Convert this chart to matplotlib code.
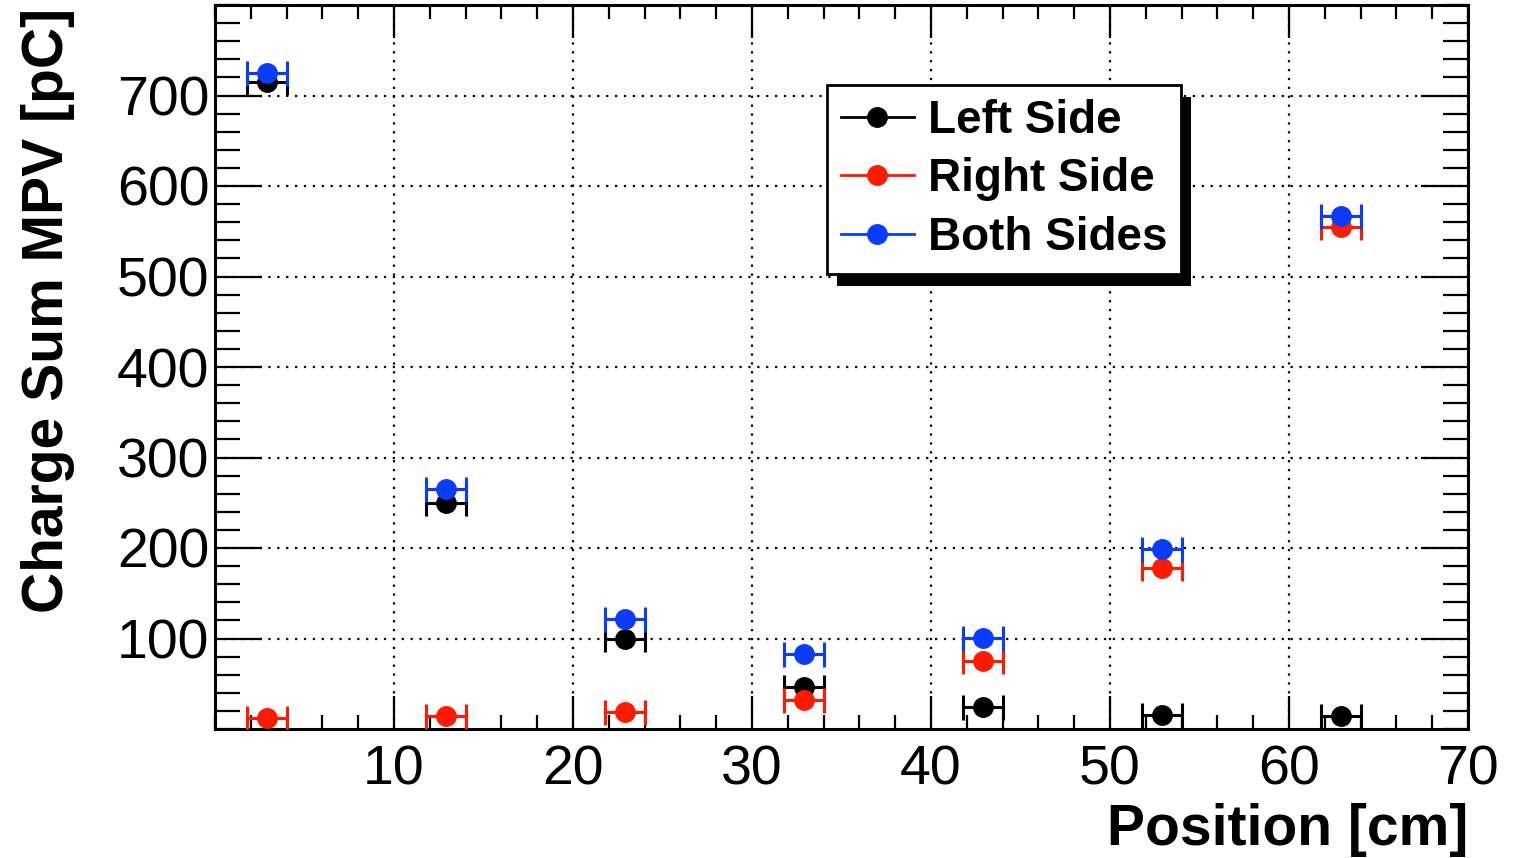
import numpy as np
import matplotlib
matplotlib.use('Agg')
import matplotlib.pyplot as plt
from matplotlib.patches import Rectangle
from matplotlib.lines import Line2D
from matplotlib.ticker import MultipleLocator

plt.rcParams.update({
    'font.family': 'Liberation Sans',
    'font.size': 40,
})

# scan positions along the bar [cm] and half-width of each position bin
position = [2.9, 12.9, 22.9, 32.9, 42.9, 52.9, 62.9]
pos_err = [1.1, 1.1, 1.1, 1.1, 1.1, 1.1, 1.1]

# most probable value of the summed charge [pC]
left_side = [715, 250, 100, 46, 24, 16, 14]
right_side = [12, 14, 19, 32, 75, 178, 555]
both_sides = [725, 265, 121, 83, 101, 199, 567]

series = [
    ('Left Side', left_side, 'black'),
    ('Right Side', right_side, '#ff1a00'),
    ('Both Sides', both_sides, '#0a3cff'),
]

fig = plt.figure(figsize=(15.19, 8.58), dpi=100)
ax = fig.add_axes([215 / 1519, 1 - 729 / 858, 1253 / 1519, 724 / 858])

handles = []
for label, vals, col in series:
    ax.errorbar(position, vals, xerr=pos_err, fmt='o', color=col, ms=14,
                elinewidth=2.2, capsize=9, capthick=2.2, zorder=3)
    handles.append(Line2D([], [], color=col, marker='o', ms=14, lw=2, label=label))

ax.set_xlim(0, 70)
ax.set_ylim(0, 800)
ax.set_xticks([10, 20, 30, 40, 50, 60, 70])
ax.set_yticks([100, 200, 300, 400, 500, 600, 700])
ax.xaxis.set_minor_locator(MultipleLocator(2))
ax.yaxis.set_minor_locator(MultipleLocator(20))
ax.grid(True, which='major', color='black', linestyle=(0, (1, 3)), linewidth=1.6)
ax.set_axisbelow(True)

ax.tick_params(axis='x', which='major', direction='in', length=24, width=1.6,
               top=True, pad=11)
ax.tick_params(axis='x', which='minor', direction='in', length=10, width=1.6, top=True)
ax.tick_params(axis='y', which='major', direction='in', length=34, width=1.6,
               right=True, pad=4)
ax.tick_params(axis='y', which='minor', direction='in', length=18, width=1.6, right=True)
for s in ax.spines.values():
    s.set_linewidth(2.2)

fig.text(48 / 1519, 1 - 8 / 858, 'Charge Sum MPV [pC]', rotation=90,
         ha='center', va='top', fontsize=41, fontweight='bold')
fig.text(1468 / 1519, 1 - 830 / 858, 'Position [cm]', ha='right', va='center',
         fontsize=41, fontweight='bold')

leg = ax.legend(handles=handles, loc='upper left',
                bbox_to_anchor=(827 / 1519, 1 - 85 / 858),
                bbox_transform=fig.transFigure, fancybox=False, shadow=False,
                framealpha=1, edgecolor='black', handlelength=1.6,
                prop={'weight': 'bold', 'size': 33}, labelspacing=0.32,
                borderpad=0.3, handletextpad=0.3, borderaxespad=0)
leg.get_frame().set_linewidth(2)
leg.set_zorder(6)

# drop shadow below and right of the legend box
fig.canvas.draw()
bb = leg.get_window_extent().transformed(fig.transFigure.inverted())
shadow = Rectangle((bb.x0 + 10 / 1519, bb.y0 - 12 / 858), bb.width, bb.height,
                   transform=fig.transFigure, facecolor='black', edgecolor='none',
                   zorder=5)
ax.add_artist(shadow)
shadow.set_clip_on(False)

fig.savefig('out.png', dpi=100)
